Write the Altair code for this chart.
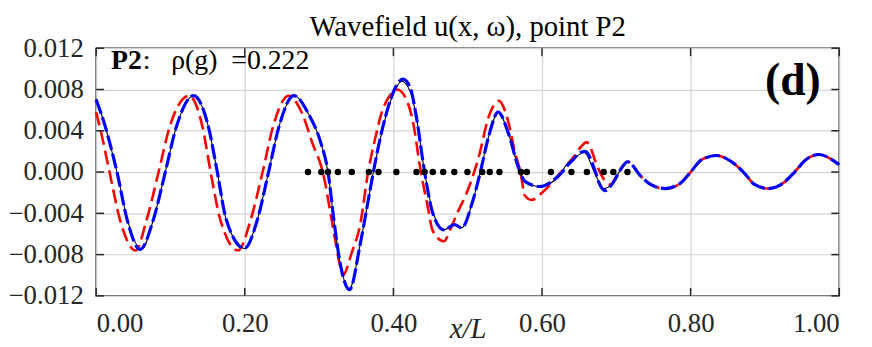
import altair as alt
import pandas as pd

# ---------------- data ----------------
black_x = [0.000, 0.011, 0.028, 0.042, 0.061, 0.077, 0.093, 0.108, 0.131, 0.151, 0.163, 0.175,
           0.1996, 0.217, 0.232, 0.246, 0.266, 0.286, 0.302, 0.312, 0.320, 0.328, 0.341, 0.355,
           0.364, 0.373, 0.382, 0.391, 0.402, 0.411, 0.422, 0.431, 0.442, 0.453, 0.468, 0.482,
           0.492, 0.506, 0.517, 0.528, 0.541, 0.555, 0.568, 0.577, 0.597, 0.620, 0.635, 0.646,
           0.657, 0.671, 0.683, 0.695, 0.708, 0.715]
black_y = [0.0071, 0.0047, 0.0000, -0.0046, -0.0075, -0.0046, 0.0000, 0.0044, 0.0074, 0.0044, 0.0000, -0.0046,
           -0.0074, -0.0046, 0.0000, 0.0044, 0.0074, 0.0056, 0.0029, 0.0000, -0.0047, -0.0087, -0.0113, -0.0071,
           -0.0036, 0.0000, 0.0031, 0.0057, 0.0079, 0.0088, 0.0079, 0.0053, 0.0000, -0.0038, -0.0056, -0.0051,
           -0.0054, -0.0030, 0.0000, 0.0034, 0.0058, 0.0037, 0.0005, -0.0009, -0.0014, -0.0006, 0.0009, 0.0015,
           0.0019, -0.0001, -0.0016, -0.0011, 0.0005, 0.0010]

blue_x = [0.000, 0.011, 0.028, 0.042, 0.059, 0.077, 0.093, 0.108, 0.131, 0.151, 0.163, 0.175,
          0.1996, 0.217, 0.232, 0.246, 0.266, 0.286, 0.302, 0.312, 0.320, 0.328, 0.341, 0.355,
          0.364, 0.373, 0.382, 0.391, 0.402, 0.413, 0.423, 0.431, 0.442, 0.453, 0.468, 0.482,
          0.492, 0.506, 0.517, 0.528, 0.541, 0.555, 0.568, 0.577, 0.597, 0.617, 0.626, 0.635,
          0.642, 0.648, 0.658, 0.671, 0.677, 0.685, 0.695, 0.708, 0.715, 0.733, 0.746, 0.766,
          0.786, 0.800, 0.815, 0.835, 0.855, 0.871, 0.886, 0.904, 0.924, 0.940, 0.955, 0.973,
          0.988, 1.000]
blue_y = [0.0070, 0.0047, 0.0000, -0.0047, -0.0075, -0.0046, 0.0000, 0.0044, 0.0074, 0.0044, 0.0000, -0.0046,
          -0.0074, -0.0046, 0.0000, 0.0044, 0.0074, 0.0056, 0.0029, 0.0000, -0.0047, -0.0087, -0.0114, -0.0071,
          -0.0036, 0.0000, 0.0032, 0.0058, 0.0081, 0.0090, 0.0081, 0.0053, 0.0000, -0.0040, -0.0056, -0.0051,
          -0.0054, -0.0030, 0.0000, 0.0034, 0.0058, 0.0037, 0.0005, -0.0009, -0.0014, -0.0007, -0.0001, 0.0007,
          0.0012, 0.0017, 0.0020, 0.0002, -0.0011, -0.0018, -0.0011, 0.0005, 0.0010, -0.0004, -0.0012, -0.0016,
          -0.0011, 0.0000, 0.0012, 0.0016, 0.0010, 0.0000, -0.0012, -0.0016, -0.0011, 0.0000, 0.0012, 0.0017,
          0.0013, 0.0007]

red_x = [0.000, 0.008, 0.018, 0.032, 0.053, 0.068, 0.084, 0.099, 0.125, 0.143, 0.154, 0.167,
         0.191, 0.208, 0.224, 0.238, 0.259, 0.277, 0.291, 0.305, 0.319, 0.328, 0.332, 0.344,
         0.355, 0.366, 0.375, 0.384, 0.395, 0.405, 0.417, 0.426, 0.437, 0.446, 0.453, 0.468,
         0.477, 0.484, 0.502, 0.515, 0.528, 0.542, 0.553, 0.564, 0.571, 0.577, 0.586, 0.600,
         0.622, 0.635, 0.644, 0.653, 0.660, 0.664, 0.671, 0.680, 0.688, 0.692, 0.704, 0.715,
         0.733, 0.746, 0.766, 0.786, 0.800, 0.815, 0.835, 0.855, 0.871, 0.886, 0.904, 0.924,
         0.940, 0.955, 0.973, 0.988, 1.000]
red_y = [0.0058, 0.0034, 0.0000, -0.0046, -0.0076, -0.0046, 0.0000, 0.0044, 0.0074, 0.0044, 0.0000, -0.0046,
         -0.0076, -0.0046, 0.0000, 0.0044, 0.0074, 0.0057, 0.0028, 0.0000, -0.0055, -0.0090, -0.0100, -0.0078,
         -0.0052, 0.0000, 0.0031, 0.0057, 0.0074, 0.0080, 0.0071, 0.0050, 0.0000, -0.0033, -0.0057, -0.0067,
         -0.0055, -0.0043, -0.0014, 0.0015, 0.0053, 0.0069, 0.0053, 0.0018, 0.0000, -0.0023, -0.0027, -0.0020,
         -0.0003, 0.0008, 0.0016, 0.0025, 0.0029, 0.0026, 0.0012, -0.0003, -0.0011, -0.0012, 0.0001, 0.0010,
         -0.0004, -0.0012, -0.0016, -0.0011, 0.0000, 0.0012, 0.0016, 0.0010, 0.0000, -0.0012, -0.0016, -0.0011,
         0.0000, 0.0012, 0.0017, 0.0013, 0.0007]

dots_x = [0.285, 0.303, 0.312, 0.3253, 0.344, 0.367, 0.380, 0.404, 0.431, 0.442, 0.453, 0.467, 0.482,
          0.4996, 0.5196, 0.5297, 0.5427, 0.5716, 0.5796, 0.612, 0.6396, 0.6604, 0.683, 0.696, 0.715]

x_ticks = [0.0, 0.2, 0.4, 0.6, 0.8, 1.0]
y_ticks = [-0.012, -0.008, -0.004, 0.0, 0.004, 0.008, 0.012]

title_text = "Wavefield u(x, ω), point P2"
label_bold = "P2"
label_rest = ":\u00a0\u00a0\u00a0ρ(g)\u00a0\u00a0=0.222"
panel_tag = "(d)"

# ---------------- chart ----------------
W, H = 750, 250
SERIF = "'Liberation Serif', 'Times New Roman', 'DejaVu Serif', serif"
DARK = "#262626"

xs = alt.Scale(domain=[0, 1], nice=False, zero=False)
ys = alt.Scale(domain=[-0.012, 0.012], nice=False, zero=False)

x_axis = alt.Axis(values=x_ticks, format=".2f", title="x/L", titleY=42, titleBaseline="alphabetic",
                  labelPadding=15)
y_axis = alt.Axis(values=y_ticks, format=".3f", title="", labelPadding=13)

X = lambda f: alt.X(f, scale=xs, axis=x_axis)
Y = lambda f: alt.Y(f, scale=ys, axis=y_axis)

black_df = pd.DataFrame({"x": black_x, "y": black_y})
blue_df = pd.DataFrame({"x": blue_x, "y": blue_y})
red_df = pd.DataFrame({"x": red_x, "y": red_y})
dots_df = pd.DataFrame({"x": dots_x, "y": [0.0] * len(dots_x)})

red = alt.Chart(red_df).mark_line(color="#ff0000", strokeWidth=2.6, strokeDash=[14, 6],
                                  interpolate="monotone").encode(x=X("x:Q"), y=Y("y:Q"), order="x:Q")
black = alt.Chart(black_df).mark_line(color="black", strokeWidth=1.1,
                                      interpolate="monotone").encode(x=X("x:Q"), y=Y("y:Q"), order="x:Q")
blue = alt.Chart(blue_df).mark_line(color="#0000ff", strokeWidth=3.2, strokeDash=[15, 4],
                                    interpolate="monotone").encode(x=X("x:Q"), y=Y("y:Q"), order="x:Q")
dots = alt.Chart(dots_df).mark_point(filled=True, color="black", size=42, opacity=1).encode(
    x=X("x:Q"), y=Y("y:Q"))

title_mark = alt.Chart(pd.DataFrame({"t": [title_text]})).mark_text(
    font=SERIF, fontSize=29, align="center", baseline="alphabetic", color="black").encode(
    x=alt.datum(0.5), y=alt.value(-12), text="t:N")
txt1 = alt.Chart(pd.DataFrame({"t": [label_bold]})).mark_text(
    font=SERIF, fontSize=28, fontWeight="bold", align="left", baseline="alphabetic", color="black").encode(
    x=alt.datum(0.02), y=alt.datum(0.0100), text="t:N")
txt2 = alt.Chart(pd.DataFrame({"t": [label_rest]})).mark_text(
    font=SERIF, fontSize=28, align="left", baseline="alphabetic", color="black", dx=32).encode(
    x=alt.datum(0.02), y=alt.datum(0.0100), text="t:N")
tag = alt.Chart(pd.DataFrame({"t": [panel_tag]})).mark_text(
    font=SERIF, fontSize=46, fontWeight="bold", align="right", baseline="alphabetic", color="black").encode(
    x=alt.datum(0.975), y=alt.datum(0.0075), text="t:N")

xt_df = pd.DataFrame({"x": x_ticks})
yt_df = pd.DataFrame({"y": y_ticks})
tick_style = dict(color=DARK, strokeWidth=1.5)
t_bottom = alt.Chart(xt_df).mark_rule(**tick_style).encode(
    x=X("x:Q"), y=alt.value(H), y2=alt.value(H - 8))
t_top = alt.Chart(xt_df).mark_rule(**tick_style).encode(
    x=X("x:Q"), y=alt.value(0), y2=alt.value(8))
t_left = alt.Chart(yt_df).mark_rule(**tick_style).encode(
    y=Y("y:Q"), x=alt.value(0), x2=alt.value(8))
t_right = alt.Chart(yt_df).mark_rule(**tick_style).encode(
    y=Y("y:Q"), x=alt.value(W - 8), x2=alt.value(W))

chart = alt.layer(red, black, blue, dots, title_mark, txt1, txt2, tag,
                  t_bottom, t_top, t_left, t_right).properties(
    width=W, height=H,
    autosize=alt.AutoSizeParams(type="none"),
    padding={"left": 89, "top": 39, "right": 25, "bottom": 50},
).configure_view(stroke=DARK, strokeWidth=1.5).configure_axis(
    grid=True, gridColor="#d4d4d4", gridWidth=1.2, gridOpacity=1,
    ticks=False, tickSize=0, domain=False,
    labelFont=SERIF, labelFontSize=27, labelColor=DARK,
    titleFont=SERIF, titleFontSize=29, titleFontStyle="italic", titleFontWeight="normal", titleColor=DARK,
)

chart.save("out.html", embed_options={"renderer": "svg", "actions": False})
